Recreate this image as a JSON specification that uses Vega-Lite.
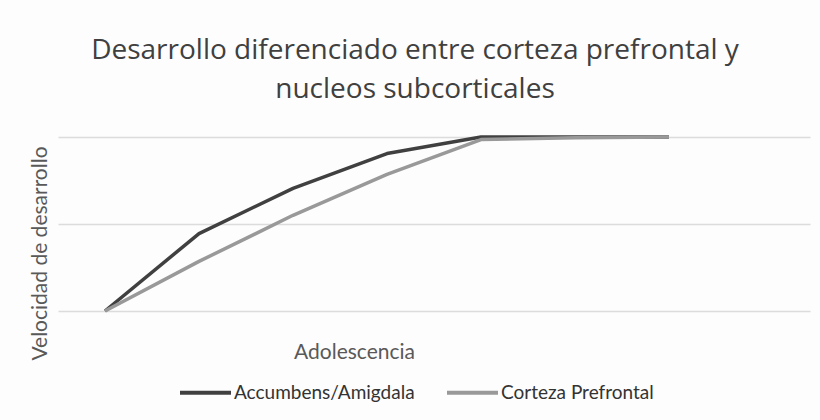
{
  "$schema": "https://vega.github.io/schema/vega-lite/v6.json",
  "autosize": "none",
  "width": 752,
  "height": 174,
  "padding": {"left": 58, "top": 137, "right": 10, "bottom": 109},
  "background": "#fdfdfd",
  "title": {
    "text": ["Desarrollo diferenciado entre corteza prefrontal y", "nucleos subcorticales"],
    "font": "Open Sans",
    "fontSize": 28,
    "fontWeight": "normal",
    "color": "#404040",
    "anchor": "middle",
    "dx": -19,
    "offset": 31,
    "lineHeight": 39
  },
  "data": {
    "values": [
      {"etapa": 1, "valor": 0.0, "serie": "Accumbens/Amigdala"},
      {"etapa": 2, "valor": 0.89, "serie": "Accumbens/Amigdala"},
      {"etapa": 3, "valor": 1.41, "serie": "Accumbens/Amigdala"},
      {"etapa": 4, "valor": 1.81, "serie": "Accumbens/Amigdala"},
      {"etapa": 5, "valor": 2.0, "serie": "Accumbens/Amigdala"},
      {"etapa": 6, "valor": 2.0, "serie": "Accumbens/Amigdala"},
      {"etapa": 7, "valor": 2.0, "serie": "Accumbens/Amigdala"},
      {"etapa": 1, "valor": 0.0, "serie": "Corteza Prefrontal"},
      {"etapa": 2, "valor": 0.57, "serie": "Corteza Prefrontal"},
      {"etapa": 3, "valor": 1.1, "serie": "Corteza Prefrontal"},
      {"etapa": 4, "valor": 1.57, "serie": "Corteza Prefrontal"},
      {"etapa": 5, "valor": 1.97, "serie": "Corteza Prefrontal"},
      {"etapa": 6, "valor": 1.99, "serie": "Corteza Prefrontal"},
      {"etapa": 7, "valor": 2.0, "serie": "Corteza Prefrontal"}
    ]
  },
  "mark": {"type": "line", "strokeWidth": 3.5, "strokeCap": "butt", "strokeJoin": "round"},
  "encoding": {
    "x": {
      "field": "etapa",
      "type": "quantitative",
      "scale": {"domain": [0.5, 8.5], "nice": false, "zero": false},
      "axis": {
        "title": "Adolescencia",
        "titleFont": "Lato",
        "titleFontSize": 21,
        "titleFontWeight": "normal",
        "titleColor": "#595959",
        "titleX": 296,
        "titleY": 41,
        "titleBaseline": "middle",
        "labels": false,
        "ticks": false,
        "domain": false,
        "grid": false
      }
    },
    "y": {
      "field": "valor",
      "type": "quantitative",
      "scale": {"domain": [0, 2], "nice": false},
      "axis": {
        "title": "Velocidad de desarrollo",
        "titleFont": "Lato",
        "titleFontSize": 21,
        "titleFontWeight": "normal",
        "titleColor": "#595959",
        "titleX": -18,
        "titleY": 116,
        "titleAngle": -90,
        "titleAlign": "center",
        "titleBaseline": "middle",
        "values": [0, 1, 2],
        "labels": false,
        "ticks": false,
        "domain": false,
        "grid": true,
        "gridColor": "#dcdcdc",
        "gridWidth": 1.5
      }
    },
    "color": {
      "field": "serie",
      "type": "nominal",
      "scale": {"domain": ["Accumbens/Amigdala", "Corteza Prefrontal"], "range": ["#404040", "#999999"]},
      "legend": {
        "title": null,
        "orient": "none",
        "direction": "horizontal",
        "legendX": 120,
        "legendY": 228,
        "symbolType": "stroke",
        "symbolSize": 2600,
        "symbolStrokeWidth": 4,
        "labelFont": "Lato",
        "labelFontSize": 19,
        "labelFontWeight": "normal",
        "labelLimit": 400,
        "labelColor": "#333333",
        "labelOffset": 1,
        "columnPadding": 24
      }
    }
  },
  "config": {"view": {"stroke": null}}
}
